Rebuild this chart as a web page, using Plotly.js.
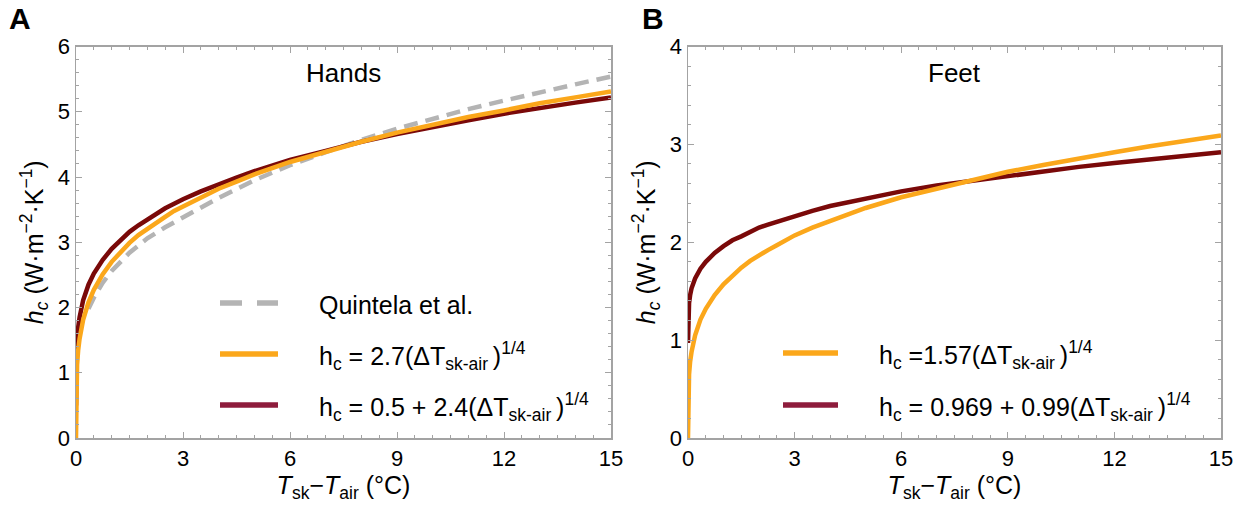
<!DOCTYPE html>
<html>
<head>
<meta charset="utf-8">
<script src="https://cdn.plot.ly/plotly-3.0.1.min.js"></script>
<style>html,body{margin:0;padding:0;background:#fff;}#chart{width:1247px;height:506px;}</style>
</head>
<body>
<div id="chart"></div>
<script>
// Temperature difference T_sk - T_air (°C), sample positions
const deltaT = [0, 0.01, 0.03, 0.06, 0.1, 0.2, 0.35, 0.5, 0.75, 1, 1.25, 1.5, 1.75, 2, 2.25, 2.5, 2.75, 3, 3.5, 4, 4.5, 5, 6, 7, 8, 9, 10, 11, 12, 13, 14, 15];

// Panel A — Hands
const quintelaX = [0.35, 0.5, 0.75, 1, 1.5, 2, 2.5, 3, 4, 5, 6, 7, 8, 9, 10, 11, 12, 13, 14, 15];
const handsQuintela = [1.98, 2.15, 2.38, 2.56, 2.84, 3.06, 3.23, 3.38, 3.68, 3.95, 4.18, 4.38, 4.57, 4.74, 4.89, 5.04, 5.17, 5.30, 5.42, 5.54];
const handsPower = [0, 0.85, 1.12, 1.34, 1.52, 1.81, 2.08, 2.27, 2.51, 2.70, 2.85, 2.99, 3.11, 3.21, 3.31, 3.39, 3.48, 3.55, 3.69, 3.82, 3.93, 4.04, 4.23, 4.39, 4.54, 4.68, 4.80, 4.92, 5.02, 5.13, 5.22, 5.31];
const handsOffset = [0.5, 1.26, 1.50, 1.69, 1.85, 2.11, 2.35, 2.52, 2.73, 2.90, 3.04, 3.16, 3.26, 3.35, 3.44, 3.52, 3.59, 3.66, 3.78, 3.89, 3.99, 4.09, 4.26, 4.40, 4.54, 4.66, 4.77, 4.87, 4.97, 5.06, 5.14, 5.22];

// Panel B — Feet
const feetPower = [0, 0.50, 0.65, 0.78, 0.88, 1.05, 1.21, 1.32, 1.46, 1.57, 1.66, 1.74, 1.81, 1.87, 1.92, 1.97, 2.02, 2.07, 2.15, 2.22, 2.29, 2.35, 2.46, 2.55, 2.64, 2.72, 2.79, 2.86, 2.92, 2.98, 3.04, 3.09];
const feetOffset = [0.97, 1.28, 1.38, 1.46, 1.53, 1.63, 1.73, 1.80, 1.89, 1.96, 2.02, 2.06, 2.11, 2.15, 2.18, 2.21, 2.24, 2.27, 2.32, 2.37, 2.41, 2.45, 2.52, 2.58, 2.63, 2.68, 2.73, 2.77, 2.81, 2.85, 2.88, 2.92];

// Labels
const panelLabels = ["A", "B"];
const panelTitles = ["Hands", "Feet"];
const xTicks = [0, 3, 6, 9, 12, 15];
const yTicksA = [0, 1, 2, 3, 4, 5, 6];
const yTicksB = [0, 1, 2, 3, 4];
const legendA = ["Quintela et al.",
  "h<sub>c</sub> = 2.7(ΔT<sub>sk-air </sub>)<sup>1/4</sup>",
  "h<sub>c</sub> = 0.5 + 2.4(ΔT<sub>sk-air </sub>)<sup>1/4</sup>"];
const legendB = ["h<sub>c</sub> =1.57(ΔT<sub>sk-air </sub>)<sup>1/4</sup>",
  "h<sub>c</sub> = 0.969 + 0.99(ΔT<sub>sk-air </sub>)<sup>1/4</sup>"];

const ORANGE = "#FBA71B";
const MAROON = "#7A0909";
const MAROON_LEG = "#8E1C3C";
const GRAY = "#B4B4B4";
const FRAME = "#A3A3A3";
const FONT = "Liberation Sans, Arial, Helvetica, sans-serif";
const W = 1247, H = 506;

const traces = [
  {x: quintelaX, y: handsQuintela, xaxis: "x", yaxis: "y", mode: "lines", name: legendA[0],
   line: {color: GRAY, width: 4.5, dash: "14px,8px"}},
  {x: deltaT, y: handsOffset, xaxis: "x", yaxis: "y", mode: "lines", name: legendA[2],
   line: {color: MAROON, width: 4.5}},
  {x: deltaT, y: handsPower, xaxis: "x", yaxis: "y", mode: "lines", name: legendA[1],
   line: {color: ORANGE, width: 4.5}},
  {x: deltaT, y: feetOffset, xaxis: "x2", yaxis: "y2", mode: "lines", name: legendB[1],
   line: {color: MAROON, width: 4.5}},
  {x: deltaT, y: feetPower, xaxis: "x2", yaxis: "y2", mode: "lines", name: legendB[0],
   line: {color: ORANGE, width: 4.5}}
];

const xTitle = "<i>T</i><sub>sk</sub>−<i>T</i><sub>air</sub> (°C)";
const yTitle = "<i>h<sub>c</sub></i> (W·m<sup>−2</sup>·K<sup>−1</sup>)";

function xAxis(domain, anchor) {
  return {
    domain: domain, anchor: anchor, range: [0, 15],
    tickvals: xTicks, ticktext: xTicks.map(String),
    showline: true, linecolor: FRAME, linewidth: 1.5, mirror: "allticks",
    ticks: "inside", ticklen: 6, tickwidth: 1, tickcolor: FRAME,
    minor: {dtick: 0.5, tick0: 0, ticks: "inside", ticklen: 3, tickcolor: FRAME, tickwidth: 1},
    showgrid: false, zeroline: false,
    tickfont: {family: FONT, size: 22, color: "#000"},
    title: {text: xTitle, font: {family: FONT, size: 25, color: "#000"}, standoff: 4}
  };
}
function yAxis(domain, anchor, range, ticks) {
  return {
    domain: domain, anchor: anchor, range: range,
    tickvals: ticks, ticktext: ticks.map(String),
    showline: true, linecolor: FRAME, linewidth: 1.5, mirror: "allticks",
    ticks: "inside", ticklen: 6, tickwidth: 1, tickcolor: FRAME,
    minor: {dtick: 0.2, tick0: 0, ticks: "inside", ticklen: 3, tickcolor: FRAME, tickwidth: 1},
    showgrid: false, zeroline: false,
    tickfont: {family: FONT, size: 22, color: "#000"},
    title: {text: yTitle, font: {family: FONT, size: 25, color: "#000"}, standoff: 7}
  };
}

const yDom = [1 - 438 / H, 1 - 46.5 / H];
const xDomA = [76 / W, 611 / W];
const xDomB = [688 / W, 1221 / W];

const px = v => v / W;
const py = v => 1 - v / H;

const shapes = [];
const annotations = [];

// panel letters and titles
[[19.5, panelLabels[0]], [653, panelLabels[1]]].forEach(([x, t]) => {
  annotations.push({xref: "paper", yref: "paper", x: px(x), y: py(18), text: "<b>" + t + "</b>",
    showarrow: false, xanchor: "center", yanchor: "middle", font: {family: FONT, size: 30, color: "#000"}});
});
[[343.5, panelTitles[0]], [954.5, panelTitles[1]]].forEach(([x, t]) => {
  annotations.push({xref: "paper", yref: "paper", x: px(x), y: py(73), text: t,
    showarrow: false, xanchor: "center", yanchor: "middle", font: {family: FONT, size: 26, color: "#000"}});
});

// legends drawn in-panel
const legItems = [
  {x0: 220, x1: 278, y: 303, color: GRAY, dash: "22px,15px", tx: 317, text: legendA[0]},
  {x0: 220, x1: 278, y: 354, color: ORANGE, dash: "solid", tx: 317, text: legendA[1]},
  {x0: 220, x1: 278, y: 405, color: MAROON_LEG, dash: "solid", tx: 317, text: legendA[2]},
  {x0: 783, x1: 838, y: 353, color: ORANGE, dash: "solid", tx: 877, text: legendB[0]},
  {x0: 783, x1: 838, y: 405, color: MAROON_LEG, dash: "solid", tx: 877, text: legendB[1]}
];
legItems.forEach(it => {
  shapes.push({type: "line", xref: "paper", yref: "paper", x0: px(it.x0), x1: px(it.x1), y0: py(it.y), y1: py(it.y),
    line: {color: it.color, width: 5.5, dash: it.dash}});
  annotations.push({xref: "paper", yref: "paper", x: px(it.tx), y: py(it.y + 2), text: it.text,
    showarrow: false, xanchor: "left", yanchor: "middle", font: {family: FONT, size: 25, color: "#000"}});
});

const layout = {
  width: W, height: H,
  margin: {l: 0, r: 0, t: 0, b: 0},
  paper_bgcolor: "#fff", plot_bgcolor: "#fff",
  showlegend: false,
  xaxis: xAxis(xDomA, "y"),
  yaxis: yAxis(yDom, "x", [0, 6], yTicksA),
  xaxis2: xAxis(xDomB, "y2"),
  yaxis2: yAxis(yDom, "x2", [0, 4], yTicksB),
  shapes: shapes,
  annotations: annotations
};

Plotly.newPlot("chart", traces, layout, {displayModeBar: false, staticPlot: true});
</script>
</body>
</html>
